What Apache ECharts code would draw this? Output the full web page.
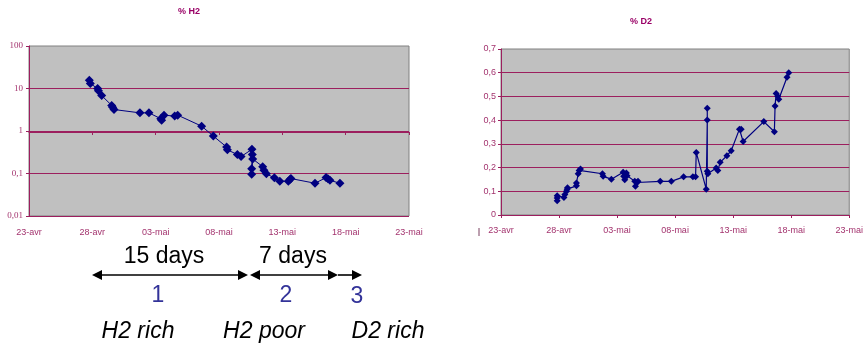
<!DOCTYPE html>
<html>
<head>
<meta charset="utf-8">
<script src="https://cdn.jsdelivr.net/npm/echarts@6/dist/echarts.min.js"></script>
<style>html,body{margin:0;padding:0;background:#fff}#c{width:866px;height:351px}</style>
</head>
<body>
<div id="c"></div>
<script>
// x values are days counted from 23-avr
const dayTickLabels = ["23-avr","28-avr","03-mai","08-mai","13-mai","18-mai","23-mai"];
const h2TickLabels = {"-2":"0,01","-1":"0,1","0":"1","1":"10","2":"100"};

const h2Days = [4.76,4.84,5.42,5.48,5.74,6.53,6.60,6.71,8.76,9.47,10.40,10.47,10.66,11.50,11.74,13.63,14.55,15.60,15.66,16.45,16.74,17.60,17.63,17.58,17.58,17.66,18.45,18.55,18.74,19.37,19.80,20.47,20.60,20.68,22.58,23.45,23.60,23.76,24.55];
const h2Values = [15.6,13.1,10.0,8.8,6.8,4.0,3.6,3.2,2.67,2.67,1.95,1.8,2.36,2.24,2.36,1.3,0.76,0.42,0.36,0.28,0.25,0.37,0.28,0.13,0.096,0.22,0.145,0.12,0.098,0.079,0.066,0.066,0.072,0.076,0.059,0.08,0.075,0.069,0.059];

const d2Days = [4.84,4.84,4.84,5.42,5.50,5.64,5.70,5.73,6.50,6.50,6.65,6.73,6.85,8.74,8.80,9.51,10.52,10.57,10.66,10.80,10.86,11.52,11.58,11.72,11.80,13.72,14.67,15.73,16.53,16.76,16.82,17.68,17.77,17.77,17.77,17.82,18.54,18.68,18.88,19.46,19.83,20.54,20.69,20.86,22.64,23.55,23.61,23.70,23.84,23.93,24.64,24.79];
const d2Values = [0.060,0.072,0.081,0.074,0.086,0.100,0.109,0.115,0.123,0.135,0.174,0.188,0.194,0.174,0.163,0.151,0.180,0.163,0.149,0.177,0.166,0.142,0.121,0.137,0.142,0.142,0.142,0.161,0.161,0.161,0.264,0.109,0.401,0.450,0.184,0.174,0.198,0.188,0.222,0.250,0.271,0.362,0.362,0.310,0.394,0.351,0.460,0.512,0.501,0.488,0.581,0.600];

const AX = '#9c1f5e', LBL = '#a3336e', NAVY = '#000080';
const dayFmt = v => dayTickLabels[Math.round(v / 5)] || '';

const chart = echarts.init(document.getElementById('c'), null, {renderer: 'canvas'});

function arrowHead(tipX, y, dir) {
  const b = tipX - dir * 10;
  return {type: 'polygon', shape: {points: [[tipX, y], [b, y - 5], [b, y + 5]]}, style: {fill: '#000'}, silent: true};
}
const AY = 275;

chart.setOption({
  animation: false,
  backgroundColor: '#ffffff',
  grid: [
    {left: 29, top: 46, width: 380, height: 170, show: true, backgroundColor: '#c0c0c0', borderColor: '#808080', borderWidth: 1},
    {left: 501, top: 49, width: 349, height: 166, show: true, backgroundColor: '#c0c0c0', borderColor: '#808080', borderWidth: 1}
  ],
  xAxis: [
    {gridIndex: 0, type: 'value', min: 0, max: 30, interval: 5, position: 'bottom',
     axisLine: {show: false}, axisTick: {show: false}, splitLine: {show: false},
     axisLabel: {formatter: dayFmt, color: LBL, fontSize: 9, fontFamily: 'Liberation Sans', margin: 12}},
    {gridIndex: 0, type: 'value', min: 0, max: 30, interval: 5, position: 'bottom', offset: -84,
     axisLine: {show: true, lineStyle: {color: AX, width: 1}}, axisTick: {show: true, length: 3, lineStyle: {color: AX}},
     axisLabel: {show: false}, splitLine: {show: false}},
    {gridIndex: 1, type: 'value', min: 0, max: 30, interval: 5, position: 'bottom',
     axisLine: {show: true, lineStyle: {color: AX, width: 1}}, axisTick: {show: true, length: 3, lineStyle: {color: AX}},
     splitLine: {show: false},
     axisLabel: {formatter: dayFmt, color: LBL, fontSize: 9, fontFamily: 'Liberation Sans', margin: 11}}
  ],
  yAxis: [
    {gridIndex: 0, type: 'log', logBase: 10, min: 0.01, max: 100,
     axisLine: {show: true, lineStyle: {color: AX}}, axisTick: {show: true, length: 3, lineStyle: {color: AX}},
     splitLine: {show: true, showMaxLine: false, lineStyle: {color: AX, width: 1}},
     axisLabel: {formatter: v => h2TickLabels[String(Math.round(Math.log10(v)))] || '', color: LBL, fontSize: 9, fontFamily: 'Liberation Serif', margin: 6}},
    {gridIndex: 1, type: 'value', min: 0, max: 0.7, interval: 0.1,
     axisLine: {show: true, lineStyle: {color: AX}}, axisTick: {show: true, length: 3, lineStyle: {color: AX}},
     splitLine: {show: true, showMaxLine: false, lineStyle: {color: AX, width: 1}},
     axisLabel: {formatter: v => v === 0 ? '0' : v.toFixed(1).replace('.', ','), color: LBL, fontSize: 9, fontFamily: 'Liberation Sans', margin: 5}}
  ],
  series: [
    {type: 'line', xAxisIndex: 0, yAxisIndex: 0, data: h2Days.map((d, i) => [d, h2Values[i]]),
     symbol: 'diamond', symbolSize: 9, itemStyle: {color: NAVY}, lineStyle: {color: NAVY, width: 1}},
    {type: 'line', xAxisIndex: 2, yAxisIndex: 1, data: d2Days.map((d, i) => [d, d2Values[i]]),
     symbol: 'diamond', symbolSize: 7, itemStyle: {color: NAVY}, lineStyle: {color: NAVY, width: 1.2}}
  ],
  graphic: [
    {type: 'text', x: 189, y: 12, style: {text: '% H2', font: 'bold 9px "Liberation Sans"', fill: '#990066', align: 'center', verticalAlign: 'middle'}},
    {type: 'text', x: 641, y: 22, style: {text: '% D2', font: 'bold 9px "Liberation Sans"', fill: '#990066', align: 'center', verticalAlign: 'middle'}},
    {type: 'line', shape: {x1: 479, y1: 228, x2: 479, y2: 236}, style: {stroke: '#7a4060', lineWidth: 1}},
    {type: 'text', x: 164, y: 257, style: {text: '15 days', font: '23px "Liberation Sans"', fill: '#000', align: 'center', verticalAlign: 'middle'}},
    {type: 'text', x: 293, y: 257, style: {text: '7 days', font: '23px "Liberation Sans"', fill: '#000', align: 'center', verticalAlign: 'middle'}},
    {type: 'line', shape: {x1: 95, y1: AY, x2: 245, y2: AY}, style: {stroke: '#000', lineWidth: 1.6}},
    arrowHead(92, AY, -1), arrowHead(248, AY, 1),
    {type: 'line', shape: {x1: 253, y1: AY, x2: 335, y2: AY}, style: {stroke: '#000', lineWidth: 1.6}},
    arrowHead(250, AY, -1), arrowHead(338, AY, 1),
    {type: 'line', shape: {x1: 338, y1: AY, x2: 358, y2: AY}, style: {stroke: '#000', lineWidth: 1.6}},
    arrowHead(362, AY, 1),
    {type: 'text', x: 158, y: 296, style: {text: '1', font: '23px "Liberation Sans"', fill: '#333399', align: 'center', verticalAlign: 'middle'}},
    {type: 'text', x: 286, y: 296, style: {text: '2', font: '23px "Liberation Sans"', fill: '#333399', align: 'center', verticalAlign: 'middle'}},
    {type: 'text', x: 357, y: 297, style: {text: '3', font: '23px "Liberation Sans"', fill: '#333399', align: 'center', verticalAlign: 'middle'}},
    {type: 'text', x: 138, y: 332, style: {text: 'H2 rich', font: 'italic 23px "Liberation Sans"', fill: '#000', align: 'center', verticalAlign: 'middle'}},
    {type: 'text', x: 264, y: 332, style: {text: 'H2 poor', font: 'italic 23px "Liberation Sans"', fill: '#000', align: 'center', verticalAlign: 'middle'}},
    {type: 'text', x: 388, y: 332, style: {text: 'D2 rich', font: 'italic 23px "Liberation Sans"', fill: '#000', align: 'center', verticalAlign: 'middle'}}
  ]
});
</script>
</body>
</html>
